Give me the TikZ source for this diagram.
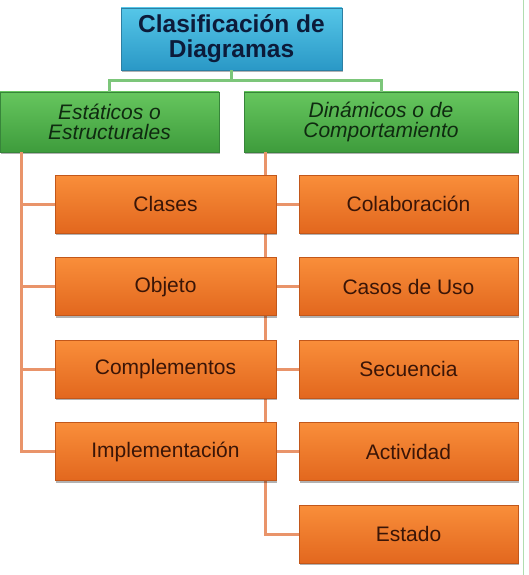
\documentclass[tikz,border=0pt]{standalone}
\usepackage{fontspec}
\setmainfont{Liberation Sans}
\usetikzlibrary{trees,shadows}

\definecolor{azulArriba}{HTML}{55C6E8}
\definecolor{azulAbajo}{HTML}{2A98C6}
\definecolor{azulBorde}{HTML}{2C7FA3}
\definecolor{azulTexto}{HTML}{0C1B3A}
\definecolor{verdeArriba}{HTML}{66C65E}
\definecolor{verdeAbajo}{HTML}{3E9C3C}
\definecolor{verdeBorde}{HTML}{37853A}
\definecolor{verdeTexto}{HTML}{0F2A10}
\definecolor{verdeLinea}{HTML}{7CC67A}
\definecolor{naranjaArriba}{HTML}{F98E3A}
\definecolor{naranjaAbajo}{HTML}{E2671E}
\definecolor{naranjaBorde}{HTML}{C2571A}
\definecolor{naranjaTexto}{HTML}{3A1507}
\definecolor{naranjaLinea}{HTML}{E9946A}

\begin{document}
\begin{tikzpicture}[x=1pt,y=1pt]
  \tikzstyle{every node}=[draw, line width=0.8pt, align=center, inner sep=0pt,
    drop shadow={shadow xshift=1pt, shadow yshift=-2pt, fill=black, opacity=0.3}]
  \tikzstyle{raiz}=[top color=azulArriba, bottom color=azulAbajo, draw=azulBorde,
    text=azulTexto, minimum width=221pt, minimum height=62pt,
    font=\fontsize{24.5}{25}\selectfont\bfseries]
  \tikzstyle{grupo}=[top color=verdeArriba, bottom color=verdeAbajo, draw=verdeBorde,
    text=verdeTexto, minimum height=60pt, font=\fontsize{21}{20}\selectfont\itshape]
  \tikzstyle{hoja}=[top color=naranjaArriba, bottom color=naranjaAbajo, draw=naranjaBorde,
    text=naranjaTexto, minimum width=221pt, minimum height=58pt,
    font=\fontsize{21}{21}\selectfont]
  \tikzstyle{level 1}=[edge from parent/.style={draw=verdeLinea, line width=3pt},
    edge from parent path={(\tikzparentnode.south) -- ++(0,-10) -| (\tikzchildnode.north)}]
  \tikzstyle{level 2}=[edge from parent/.style={draw=naranjaLinea, line width=3pt},
    edge from parent path={([xshift=22pt]\tikzparentnode.south west) |- (\tikzchildnode.west)}]
  \useasboundingbox (0,0) rectangle (528,-575);
  % borde de la diapositiva
  \draw[verdeLinea!60, line width=1pt] (523,0) -- (523,-575);
  % el de la derecha primero, asi las cajas de la izquierda tapan su linea
  \node[raiz] (clasif) at (231.5,-39) {Clasificación de\\Diagramas}
    [grow via three points={one child at (0,-83) and two children at (149.5,-83) and (-122,-83)}]
    child {node[grupo, minimum width=274pt] (dinamicos) {Dinámicos o de\\Comportamiento}
      [grow via three points={one child at (27.5,-82) and two children at (27.5,-82) and (27.5,-164.6)}]
      child {node[hoja, minimum width=219pt] (colab) {Colaboración}}
      child {node[hoja, minimum width=219pt] (casos) {Casos de Uso}}
      child {node[hoja, minimum width=219pt] (secuencia) {Secuencia}}
      child {node[hoja, minimum width=219pt] (actividad) {Actividad}}
      child {node[hoja, minimum width=219pt] (estado) {Estado}}
    }
    child {node[grupo, minimum width=219pt] (estaticos) {Estáticos o\\Estructurales}
      [grow via three points={one child at (56,-82) and two children at (56,-82) and (56,-164.6)}]
      child {node[hoja] (clases) {Clases}}
      child {node[hoja] (objeto) {Objeto}}
      child {node[hoja] (complementos) {Complementos}}
      child {node[hoja] (implementacion) {Implementación}}
    };
\end{tikzpicture}
\end{document}
